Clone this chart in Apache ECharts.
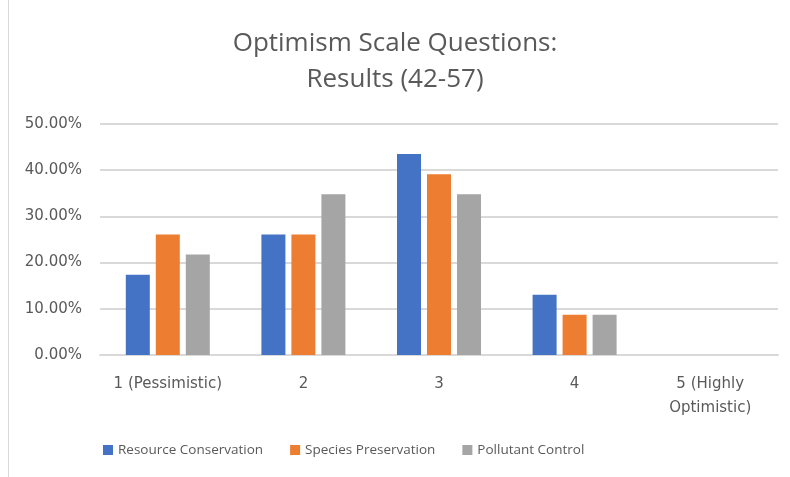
<!DOCTYPE html>
<html>
<head>
<meta charset="utf-8">
<script src="https://cdn.jsdelivr.net/npm/echarts@6/dist/echarts.min.js"></script>
<style>
  html, body { margin: 0; padding: 0; background: #fff; }
  #chart { width: 790px; height: 477px; }
</style>
</head>
<body>
<div id="chart"></div>
<script>
  // categories + values (fractions)
  var categories = ['1 (Pessimistic)', '2', '3', '4', '5 (Highly\nOptimistic)'];
  var resourceConservation = [0.1739, 0.2609, 0.4348, 0.1304, 0];
  var speciesPreservation = [0.2609, 0.2609, 0.3913, 0.0870, 0];
  var pollutantControl = [0.2174, 0.3478, 0.3478, 0.0870, 0];
  var yTicks = [0, 0.1, 0.2, 0.3, 0.4, 0.5];

  var chart = echarts.init(document.getElementById('chart'));
  var font = 'Open Sans';
  var axisFont = 'DejaVu Sans';

  chart.setOption({
    animation: false,
    color: ['#4472C4', '#ED7D31', '#A5A5A5'],
    title: {
      text: 'Optimism Scale Questions:\nResults (42-57)',
      left: 'center',
      top: 21,
      textStyle: {
        color: '#595959',
        fontFamily: font,
        fontSize: 26,
        fontWeight: 'normal',
        lineHeight: 36
      }
    },
    grid: {
      left: 100,
      right: 12,
      top: 124,
      bottom: 122
    },
    legend: {
      top: 438,
      left: 98,
      itemWidth: 10,
      itemHeight: 10,
      itemGap: 27,
      icon: 'rect',
      textStyle: { color: '#595959', fontFamily: font, fontSize: 13.5 },
      data: ['Resource Conservation', 'Species Preservation', 'Pollutant Control']
    },
    xAxis: {
      type: 'category',
      data: categories,
      axisLine: { lineStyle: { color: '#d9d9d9', width: 2 } },
      axisTick: { show: false },
      axisLabel: {
        interval: 0,
        color: '#595959',
        fontFamily: axisFont,
        fontSize: 15,
        margin: 17,
        lineHeight: 24
      }
    },
    yAxis: {
      type: 'value',
      min: yTicks[0],
      max: yTicks[yTicks.length - 1],
      interval: 0.1,
      axisLine: { show: false },
      axisTick: { show: false },
      splitLine: { lineStyle: { color: '#d9d9d9', width: 2 } },
      axisLabel: {
        color: '#595959',
        fontFamily: axisFont,
        fontSize: 15,
        margin: 18,
        formatter: function (v) { return (v * 100).toFixed(2) + '%'; }
      }
    },
    series: [
      { name: 'Resource Conservation', type: 'bar', data: resourceConservation, barWidth: 24, barGap: '25%' },
      { name: 'Species Preservation', type: 'bar', data: speciesPreservation, barWidth: 24, barGap: '25%' },
      { name: 'Pollutant Control', type: 'bar', data: pollutantControl, barWidth: 24, barGap: '25%' }
    ],
    graphic: [{
      type: 'line',
      shape: { x1: 8.5, y1: 0, x2: 8.5, y2: 477 },
      style: { stroke: '#d9d9d9', lineWidth: 1 }
    }]
  });
</script>
</body>
</html>
